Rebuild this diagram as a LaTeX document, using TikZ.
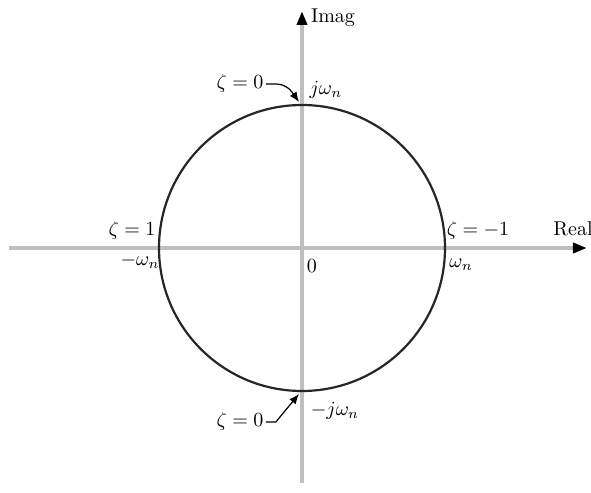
\documentclass[tikz,border=0pt]{standalone}
\usetikzlibrary{arrows.meta}

\tikzset{
  axis/.style={draw=gray!50, line width=2pt, -{Triangle[color=black,length=7pt,width=5pt]}},
  pointer/.style={draw=black, line width=0.6pt, -{Latex[length=5pt,width=4pt]}},
  lbl/.style={inner sep=1pt}
}

\begin{document}
\begin{tikzpicture}[x=0.5pt,y=0.5pt]
  \useasboundingbox (-302,248) rectangle (289,-245);

  \coordinate (xl) at (-293,0);
  \coordinate (xr) at (285,0);
  \coordinate (yb) at (0,-235);
  \coordinate (yt) at (0,237);
  \draw[axis] (xl) -- (xr);
  \draw[axis] (yb) -- (yt);

  \draw[black!85, line width=1.1pt] (0,0) circle (143);

  \node[lbl] (imag) at (31,230) {Imag};
  \node[lbl] (real) at (271,19) {Real};
  \node[lbl] (zero) at (10,-18) {$0$};

  \node[lbl] (jwn) at (24,158) {$j\omega_n$};
  \node[lbl] (mjwn) at (33,-163) {$-j\omega_n$};
  \node[lbl] (wn) at (159,-17) {$\omega_n$};
  \node[lbl] (mwn) at (-162,-13) {$-\omega_n$};

  \node[lbl] (zone) at (-170,17) {$\zeta = 1$};
  \node[lbl] (zmone) at (176,17) {$\zeta = -1$};
  \node[lbl] (ztop) at (-62,164) {$\zeta = 0$};
  \node[lbl] (zbot) at (-62,-174) {$\zeta = 0$};

  % arrows to the imaginary axis crossings
  \coordinate (ttip) at (-3,146);
  \coordinate (btip) at (-3,-146);
  \draw[pointer] (ztop.east) -- ++(10,0) to[out=0,in=125] (ttip);
  \draw[pointer] (zbot.east) -- ++(10,0) -- (btip);
\end{tikzpicture}
\end{document}
